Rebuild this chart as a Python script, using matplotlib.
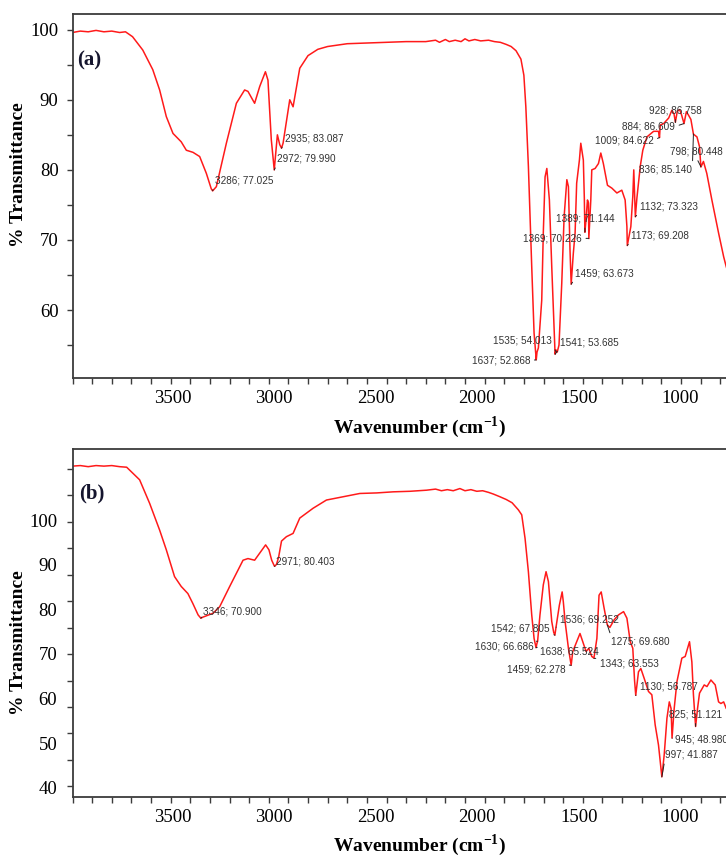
import matplotlib.pyplot as plt
from matplotlib.ticker import MultipleLocator

plt.rcParams['font.family'] = ['Liberation Serif', 'DejaVu Serif']
plt.rcParams['mathtext.fontset'] = 'custom'
plt.rcParams['mathtext.rm'] = 'Liberation Serif'
plt.rcParams['mathtext.bf'] = 'Liberation Serif:bold'

# === spectrum (a) ===
wn_a = [4000, 3960, 3920, 3880, 3840, 3800, 3760, 3730, 3694, 3642,
        3591, 3556, 3522, 3488, 3446, 3420, 3386, 3352, 3318, 3293,
        3286, 3267, 3216, 3165, 3123, 3106, 3072, 3046, 3017, 3004,
        2987, 2972, 2956, 2944, 2935, 2927, 2893, 2876, 2842, 2800,
        2750, 2700, 2600, 2500, 2400, 2300, 2200, 2150, 2130, 2100,
        2080, 2050, 2020, 2000, 1980, 1950, 1920, 1880, 1850, 1820,
        1790, 1765, 1740, 1715, 1700, 1690, 1677, 1660, 1648, 1637,
        1633, 1626, 1609, 1601, 1592, 1583, 1570, 1558, 1545, 1541,
        1536, 1530, 1521, 1507, 1495, 1481, 1473, 1465, 1459, 1448,
        1439, 1431, 1417, 1410, 1397, 1392, 1389, 1383, 1376, 1371,
        1369, 1359, 1354, 1337, 1320, 1308, 1295, 1274, 1252, 1226,
        1201, 1184, 1175, 1173, 1155, 1145, 1140, 1136, 1132, 1124,
        1116, 1107, 1094, 1073, 1039, 1014, 1009, 1005, 988, 962,
        946, 935, 928, 918, 906, 896, 884, 872, 861, 849,
        836, 818, 805, 798, 785, 768, 742, 708, 682, 669,
        650]
t_a = [99.6, 99.8, 99.7, 99.9, 99.7, 99.8, 99.6, 99.7, 99.0, 97.1,
       94.3, 91.4, 87.6, 85.2, 84.0, 82.8, 82.5, 81.9, 79.5, 77.3,
       77.0, 77.6, 83.8, 89.5, 91.4, 91.2, 89.5, 91.9, 94.0, 92.8,
       84.3, 80.0, 85.0, 83.6, 83.1, 83.8, 90.0, 89.0, 94.5, 96.3,
       97.2, 97.6, 98.0, 98.1, 98.2, 98.3, 98.3, 98.5, 98.2, 98.6,
       98.3, 98.5, 98.3, 98.7, 98.4, 98.6, 98.4, 98.5, 98.3, 98.2,
       97.9, 97.6, 97.0, 95.8, 93.5, 89.0, 80.5, 66.2, 56.7, 52.9,
       54.0, 54.6, 61.4, 71.0, 79.0, 80.2, 75.7, 66.2, 56.7, 53.7,
       54.3, 54.0, 55.0, 63.8, 73.3, 78.6, 77.6, 68.6, 63.7, 68.1,
       71.0, 78.1, 81.4, 83.8, 81.4, 76.0, 71.1, 73.0, 75.7, 75.3,
       70.2, 75.7, 80.0, 80.2, 80.9, 82.4, 80.9, 77.8, 77.4, 76.7,
       77.1, 75.7, 71.9, 69.2, 71.9, 76.2, 80.0, 76.5, 73.3, 76.0,
       78.1, 80.5, 82.8, 84.7, 85.5, 85.5, 84.6, 86.4, 86.6, 87.4,
       88.5, 88.0, 86.8, 88.4, 88.6, 87.8, 86.6, 88.3, 87.8, 87.2,
       85.1, 84.7, 83.3, 80.4, 81.2, 79.5, 75.7, 71.0, 67.6, 66.2,
       64.5]

peaks_a_wn = [3286, 2972, 2935, 1637, 1535, 1541, 1459, 1369, 1389,
              1173, 1132, 836, 798, 1009, 884, 928]
peaks_a_t = [77.025, 79.990, 83.087, 52.868, 54.013, 53.685, 63.673,
             70.226, 71.144, 69.208, 73.323, 85.140, 80.448, 84.622,
             86.609, 86.758]

# === spectrum (b) ===
wn_b = [4000, 3960, 3920, 3880, 3840, 3800, 3760, 3724, 3701, 3658,
        3607, 3556, 3522, 3480, 3446, 3412, 3387, 3360, 3346, 3335,
        3284, 3250, 3199, 3131, 3106, 3072, 3046, 3016, 2999, 2985,
        2971, 2961, 2950, 2935, 2910, 2876, 2842, 2774, 2706, 2621,
        2536, 2450, 2366, 2280, 2196, 2150, 2120, 2090, 2060, 2026,
        2000, 1970, 1940, 1910, 1880, 1856, 1822, 1790, 1760, 1728,
        1711, 1694, 1677, 1660, 1648, 1638, 1634, 1630, 1618, 1601,
        1587, 1575, 1558, 1548, 1542, 1536, 1519, 1505, 1499, 1490,
        1473, 1459, 1451, 1431, 1414, 1397, 1383, 1369, 1354, 1343,
        1328, 1317, 1306, 1291, 1275, 1262, 1240, 1218, 1192, 1175,
        1158, 1145, 1136, 1130, 1116, 1104, 1087, 1065, 1048, 1031,
        1014, 997, 985, 971, 959, 950, 945, 934, 920, 895,
        878, 856, 844, 836, 825, 815, 805, 781, 767, 747,
        725, 708, 696, 682, 669, 650]
t_b = [98.7, 98.8, 98.6, 98.8, 98.7, 98.8, 98.6, 98.5, 97.7, 96.2,
       91.9, 87.0, 83.4, 78.5, 76.7, 75.4, 73.6, 71.5, 70.9, 71.1,
       71.8, 73.0, 76.7, 81.5, 81.8, 81.5, 82.8, 84.3, 83.4, 81.5,
       80.4, 80.7, 82.0, 85.0, 85.8, 86.4, 89.2, 91.0, 92.5, 93.1,
       93.7, 93.8, 94.0, 94.1, 94.3, 94.5, 94.2, 94.4, 94.2, 94.6,
       94.2, 94.4, 94.1, 94.2, 93.9, 93.6, 93.1, 92.6, 92.0, 90.7,
       89.8, 85.5, 79.4, 71.5, 67.2, 65.5, 66.2, 66.7, 71.5, 77.0,
       79.4, 77.6, 70.3, 68.3, 67.8, 69.3, 73.3, 75.7, 73.9, 70.3,
       65.4, 62.3, 64.8, 66.6, 68.1, 66.3, 64.8, 65.4, 63.9, 63.6,
       67.2, 75.1, 75.7, 72.7, 69.7, 69.2, 70.6, 71.5, 72.1, 70.9,
       66.6, 65.4, 59.5, 56.8, 61.1, 61.7, 59.9, 57.5, 56.9, 51.4,
       47.7, 41.9, 45.9, 52.6, 55.6, 54.4, 49.0, 54.4, 59.3, 63.6,
       63.9, 66.6, 62.9, 56.9, 51.1, 54.4, 57.2, 58.7, 58.4, 59.6,
       58.7, 55.6, 55.3, 55.6, 54.4, 54.0]

peaks_b_wn = [3346, 2971, 1542, 1536, 1630, 1638, 1459, 1343, 1275,
              1130, 825, 945, 997]
peaks_b_t = [70.900, 80.403, 67.805, 69.252, 66.686, 65.524, 62.278,
             63.553, 69.680, 56.787, 51.121, 48.980, 41.887]

# tick labels
x_labels = [3500, 3000, 2500, 2000, 1500, 1000]
y_labels_a = [60, 70, 80, 90, 100]
y_labels_b = [40, 50, 60, 70, 80, 90, 100]

# label placement (pixel offsets, alignment) - layout only
off_a = [(2, 10, 'left'), (3, 11, 'left'), (3, 10, 'left'), (-6, 0, 'right'),
         (-4, 11, 'right'), (5, 12, 'left'), (4, 11, 'left'), (-7, 0, 'right'),
         (0, 13, 'center'), (4, 10, 'left'), (5, 10, 'left'), (-1, -36, 'right'),
         (-5, 15, 'center'), (-6, -3, 'right'), (-9, -3, 'right'), (0, 12, 'center')]
off_b = [(2, 7, 'left'), (2, 5, 'left'), (-5, 7, 'right'), (4, 8, 'left'),
         (-4, -5, 'right'), (4, -4, 'left'), (-6, -4, 'right'), (6, -5, 'left'),
         (4, -17, 'left'), (4, 9, 'left'), (0, 12, 'center'), (3, -1, 'left'),
         (3, 22, 'left')]

W, H = 726, 857
fig = plt.figure(figsize=(W / 100, H / 100), dpi=100)
ax_a = fig.add_axes([72.5 / W, 1 - 378 / H, (779 - 72.5) / W, 364 / H])
ax_b = fig.add_axes([72.5 / W, 1 - 797 / H, (779 - 72.5) / W, 348 / H])

axis_col = '#3c3c3c'


def base_style(ax):
    ax.set_xlim(4000, 400)
    for s in ['top', 'left', 'bottom']:
        ax.spines[s].set_color(axis_col)
        ax.spines[s].set_linewidth(1.3)
    ax.spines['right'].set_visible(False)
    # labels sit where the original figure put them
    ax.set_xticks([3490 - (3500 - v) * 1.035 for v in x_labels])
    ax.set_xticklabels([str(v) for v in x_labels])
    ax.xaxis.set_minor_locator(MultipleLocator(100))
    ax.tick_params(axis='x', which='major', length=0, pad=9, labelsize=13.5)
    ax.tick_params(axis='x', which='minor', length=4, width=1, color=axis_col)
    ax.tick_params(axis='y', which='both', length=4, width=1, color=axis_col,
                   labelsize=13.5)


def add_peaks(ax, wns, ts, offs):
    for w, t, (dx, dy, ha) in zip(wns, ts, offs):
        rx = {'left': 0.0, 'right': 1.0, 'center': 0.5}[ha]
        ry = 0.0 if dy > 3 else (1.0 if dy < -3 else 0.5)
        ax.annotate(f'{w}; {t:.3f}', xy=(w, t), xytext=(dx, dy),
                    textcoords='offset pixels', ha=ha, va='center',
                    fontsize=7.2, family='Liberation Sans', color='#333333',
                    arrowprops=dict(arrowstyle='-', color='#222222', lw=0.7,
                                    shrinkA=1, shrinkB=0, relpos=(rx, ry)))


# --- painel (a) ---
ax_a.plot(wn_a, t_a, color='#ff1a1a', lw=1.1)
base_style(ax_a)
ax_a.set_ylim(50.3, 102.24)
ax_a.set_yticks(y_labels_a)
ax_a.set_yticklabels([str(v) for v in y_labels_a])
ax_a.yaxis.set_minor_locator(MultipleLocator(5))
ax_a.tick_params(axis='y', which='major', pad=6)
add_peaks(ax_a, peaks_a_wn, peaks_a_t, off_a)

# --- painel (b) ---
ax_b.plot(wn_b, t_b, color='#ff1a1a', lw=1.1)
base_style(ax_b)
ax_b.set_ylim(38.21, 101.83)
ax_b.set_yticks([39.9 + (v - 40) * 0.8158 for v in y_labels_b])
ax_b.set_yticklabels([str(v) for v in y_labels_b])
ax_b.set_yticks([98.17 - 4.835 * k for k in range(13)], minor=True)
ax_b.tick_params(axis='y', which='major', length=0, pad=11)
add_peaks(ax_b, peaks_b_wn, peaks_b_t, off_b)

# panel letters and axis titles
fig.text(77 / W, 1 - 60 / H, '(a)', fontsize=15, fontweight='bold',
         color='#15152e', va='center')
fig.text(79 / W, 1 - 493 / H, '(b)', fontsize=15, fontweight='bold',
         color='#15152e', va='center')
for yc in [175, 643]:
    fig.text(19 / W, 1 - yc / H, '% Transmittance', rotation=90,
             fontsize=14, fontweight='bold', ha='center', va='center')
for yc in [427, 845]:
    fig.text(420 / W, 1 - yc / H, r'Wavenumber (cm$^{\mathbf{-1}}$)',
             fontsize=14, fontweight='bold', ha='center', va='center')

fig.savefig('out.png', dpi=100)
